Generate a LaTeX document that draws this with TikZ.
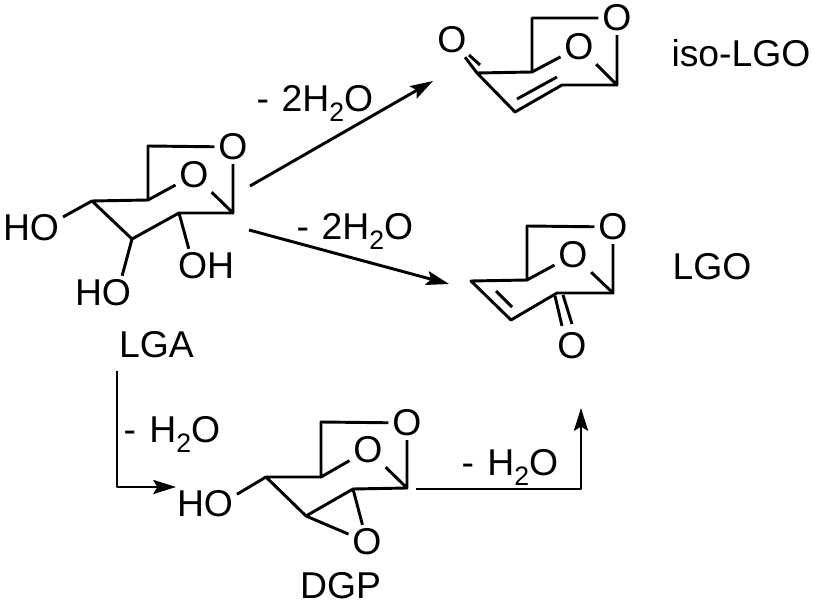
\documentclass[tikz,border=0pt]{standalone}
\usepackage{fontspec}
\usetikzlibrary{arrows.meta}
\setmainfont{Liberation Sans}
\newcommand{\subtwo}{\raisebox{-7.5pt}{\fontsize{20}{20}\selectfont 2}}
\newcommand{\losstwo}{-\hspace{0.34em}2H\subtwo O}
\newcommand{\lossone}{-\hspace{0.36em}H\subtwo O}
\begin{document}
\begin{tikzpicture}[x=0.75pt, y=-0.75pt, line join=round,
		atom/.style={inner sep=3pt, outer sep=0pt, font=\fontsize{28}{30}\selectfont},
		tag/.style={inner sep=0pt, outer sep=0pt, font=\fontsize{28}{30}\selectfont},
		loss/.style={tag, anchor=base west},
		bondline/.style={line width=2.2pt},
		reaction/.style={->, >={Stealth[length=17pt, width=10.5pt, inset=3pt]}, line width=2.2pt}]
	\useasboundingbox (0,0) rectangle (816,605);
	% LGA
	\node[atom] (O1A)at(233, 147) {O};
	\node[atom] (O2A)at(194, 175) {O};
	\node[atom] (HO1A)at(31, 228) {HO};
	\node[atom] (OHA)at(206, 266) {OH};
	\node[atom] (HO2A)at(103, 293) {HO};
	\coordinate (aA)at(148, 146);
	\coordinate (bA)at(148, 200);
	\coordinate (cA)at(92, 201);
	\coordinate (dA)at(132, 239);
	\coordinate (eA)at(179, 213);
	\coordinate (fA)at(233, 213);
	\draw[bondline] (O1A) -- (aA) -- (bA) -- (O2A) -- (fA) -- (O1A);
	\draw[bondline] (bA) -- (cA) -- (dA) -- (eA) -- (fA);
	\draw[bondline] (cA) -- (HO1A.19);
	\draw[bondline] (dA) -- (HO2A.42);
	\draw[bondline] (eA) -- (OHA.135);
	\node[tag] (LGA)at(156.5, 345) {LGA};
	% iso-LGO
	\node[atom] (O1B)at(617, 18) {O};
	\node[atom] (O2B)at(579, 47) {O};
	\node[atom] (O3B)at(452, 40) {O};
	\coordinate (aB)at(532, 18);
	\coordinate (bB)at(532, 72);
	\coordinate (cB)at(477, 73);
	\coordinate (dB)at(515, 112);
	\coordinate (eB)at(562, 85);
	\coordinate (fB)at(617, 85);
	\coordinate (g1B)at(517, 99);
	\coordinate (g2B)at(557, 77);
	\coordinate (h1B)at(469, 55);
	\coordinate (h2B)at(480, 65);
	\draw[bondline] (O1B) -- (aB) -- (bB) -- (O2B) -- (fB) -- (O1B);
	\draw[bondline] (bB) -- (cB) -- (dB) -- (eB) -- (fB);
	\draw[bondline] (cB) -- (O3B);
	\draw[bondline] (g1B) -- (g2B);
	\draw[bondline] (h1B) -- (h2B);
	\node[tag] (isoLGO)at(741, 53.5) {iso-LGO};
	% LGO
	\node[atom] (O1C)at(613, 227) {O};
	\node[atom] (O2C)at(573, 255) {O};
	\node[atom] (O3C)at(572, 346) {O};
	\coordinate (aC)at(527, 226);
	\coordinate (bC)at(527, 280);
	\coordinate (cC)at(471, 281);
	\coordinate (dC)at(511, 320);
	\coordinate (eC)at(557, 293);
	\coordinate (fC)at(613, 293);
	\coordinate (g1C)at(496, 291);
	\coordinate (g2C)at(512, 307);
	\coordinate (h1C)at(555, 296);
	\coordinate (h2C)at(562, 326);
	\coordinate (h3C)at(563, 295);
	\coordinate (h4C)at(572, 324);
	\draw[bondline] (O1C) -- (aC) -- (bC) -- (O2C) -- (fC) -- (O1C);
	\draw[bondline] (bC) -- (cC) -- (dC) -- (eC) -- (fC);
	\draw[bondline] (g1C) -- (g2C);
	\draw[bondline] (h1C) -- (h2C);
	\draw[bondline] (h3C) -- (h4C);
	\node[tag] (LGO)at(712, 267) {LGO};
	% DGP
	\node[atom] (O1D)at(407, 423) {O};
	\node[atom] (O2D)at(368, 450) {O};
	\node[atom] (O3D)at(367, 542) {O};
	\node[atom] (HOD)at(205, 504) {HO};
	\coordinate (aD)at(321, 422);
	\coordinate (bD)at(321, 477);
	\coordinate (cD)at(266, 477);
	\coordinate (dD)at(306, 516);
	\coordinate (eD)at(353, 489);
	\coordinate (fD)at(407, 488);
	\draw[bondline] (O1D) -- (aD) -- (bD) -- (O2D) -- (fD) -- (O1D);
	\draw[bondline] (bD) -- (cD) -- (dD) -- (eD) -- (fD);
	\draw[bondline] (dD) -- (O3D) -- (eD);
	\draw[bondline] (cD) -- (HOD.17);
	\node[tag] (DGP)at(340.5, 586) {DGP};
	% reaction arrows
	\coordinate (s1)at(250, 186);
	\coordinate (t1)at(433, 81);
	\coordinate (s2)at(249, 230);
	\coordinate (t2)at(449, 284);
	\coordinate (s3)at(117, 371);
	\coordinate (k3)at(117, 487);
	\coordinate (t3)at(176, 487);
	\coordinate (s4)at(416, 489);
	\coordinate (k4)at(581, 489);
	\coordinate (t4)at(581, 408);
	\draw[reaction] (s1) -- (t1);
	\draw[reaction] (s2) -- (t2);
	\draw[reaction] (s3) -- (k3) -- (t3);
	\draw[reaction] (s4) -- (k4) -- (t4);
	\node[loss] (W1)at(256.5, 112) {\losstwo};
	\node[loss] (W2)at(296.5, 240) {\losstwo};
	\node[loss] (W3)at(123.5, 442) {\lossone};
	\node[loss] (W4)at(461.5, 475) {\lossone};
\end{tikzpicture}
\end{document}
